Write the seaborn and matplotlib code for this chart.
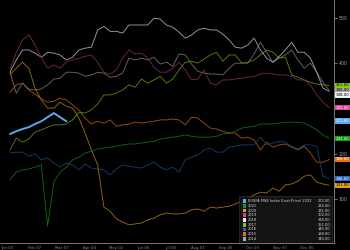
import numpy as np
import pandas as pd
import matplotlib
matplotlib.use("Agg")
import matplotlib.pyplot as plt
from matplotlib.patches import Rectangle
import seaborn as sns

# ---- data (weekly values) ----
v2022 = [244, 250, 255, 259, 266, 272, 281, 290, 281, 272]
v2021 = [143, 160, 165, 167, 171, 176, 41, 138, 160, 171, 187, 193, 202, 206, 211, 213, 215, 217, 220, 222,
         222, 224, 226, 228, 233, 235, 237, 239, 242, 239, 237, 237, 237, 239, 244, 246, 250, 257, 259, 261,
         266, 266, 266, 268, 270, 270, 270, 268, 261, 253, 242, 234]
v2020 = [374, 389, 402, 389, 345, 319, 301, 301, 314, 305, 301, 279, 246, 209, 176, 83, 74, 57, 50, 44,
         46, 48, 55, 59, 66, 70, 68, 68, 70, 77, 79, 74, 83, 81, 83, 85, 90, 96, 103, 110,
         116, 114, 125, 118, 132, 134, 140, 151, 154, 138, 134, 131]
v2019 = [385, 424, 451, 462, 440, 413, 389, 396, 389, 402, 407, 411, 415, 418, 402, 380, 376, 385, 411, 429,
         420, 422, 411, 391, 380, 380, 389, 402, 385, 363, 365, 385, 356, 352, 363, 363, 365, 367, 369, 371,
         376, 378, 376, 374, 374, 371, 363, 363, 352, 330, 314, 302]
v2018 = [380, 407, 429, 429, 422, 413, 424, 422, 418, 407, 413, 429, 433, 435, 473, 481, 470, 470, 466, 484,
         484, 484, 484, 499, 497, 484, 479, 468, 455, 462, 473, 477, 473, 473, 464, 451, 435, 433, 440, 455,
         429, 411, 402, 415, 429, 446, 424, 424, 411, 380, 345, 338]
v2017 = [209, 235, 226, 233, 248, 253, 259, 264, 264, 266, 275, 292, 290, 297, 310, 330, 330, 334, 341, 352,
         347, 365, 356, 363, 371, 356, 365, 385, 402, 404, 400, 409, 418, 424, 404, 418, 418, 400, 402, 407,
         418, 429, 424, 411, 413, 374, 369, 363, 358, 354, 352, 351]
v2016 = [202, 204, 204, 195, 200, 187, 191, 180, 171, 180, 176, 165, 178, 169, 167, 165, 154, 167, 176, 173,
         171, 169, 176, 182, 171, 165, 171, 160, 187, 193, 198, 209, 213, 204, 204, 215, 217, 220, 220, 220,
         237, 220, 224, 228, 226, 217, 211, 220, 220, 217, 151, 146]
v2015 = [336, 352, 356, 341, 332, 321, 314, 316, 323, 319, 308, 297, 279, 266, 272, 268, 275, 261, 264, 266,
         270, 268, 270, 272, 275, 275, 277, 275, 264, 281, 279, 268, 257, 255, 250, 246, 246, 235, 237, 231,
         209, 226, 215, 220, 222, 215, 209, 217, 202, 182, 182, 188]
v2014 = [380, 334, 356, 343, 341, 343, 352, 365, 367, 380, 380, 378, 371, 374, 380, 378, 369, 371, 378, 411,
         407, 411, 407, 413, 398, 402, 393, 420, 418, 398, 382, 378, 376, 376, 374, 389, 400, 400, 400, 420,
         446, 424, 402, 411, 418, 429, 407, 389, 400, 380, 358, 340]

legend_names = ["EUSFA PWE Index (Last Price) 2022", "2021", "2020", "2019", "2018",
                "2017", "2016", "2015", "2014"]
years = ["2022", "2021", "2020", "2019", "2018", "2017", "2016", "2015", "2014"]
series = [v2022, v2021, v2020, v2019, v2018, v2017, v2016, v2015, v2014]
yticks = [100, 200, 300, 400, 500]
ytick_labels = ["100", "200", "", "400", "500"]
xtick_labels = ["Jan 03", "Feb 07", "Mar 07", "Apr 04", "May 02", "Jun 06",
                "Jul 04", "Aug 01", "Sep 05", "Oct 03", "Nov 07", "Dec 05"]

# ---- styles ----
line_colors = {"2022": "#5aaaf0", "2021": "#0f6e12", "2020": "#a0700f", "2019": "#7e2658",
               "2018": "#a8a8a8", "2017": "#568c10", "2016": "#183f74", "2015": "#a8520c",
               "2014": "#6e6e6e"}
box_colors = {"2022": "#5aaaf0", "2021": "#109a18", "2020": "#e8a010", "2019": "#e03c9c",
              "2018": "#f0f0f0", "2017": "#88cc10", "2016": "#2a66c8", "2015": "#e87010",
              "2014": "#a8a8a8"}
box_text = {"2022": "white", "2021": "white", "2020": "black", "2019": "white", "2018": "black",
            "2017": "black", "2016": "white", "2015": "white", "2014": "black"}

rows = []
for yr, vals in zip(years, series):
    for i, v in enumerate(vals):
        rows.append({"week": i + 1, "value": v, "year": yr})
df = pd.DataFrame(rows)

sns.set_style("dark")
plt.rcParams["font.family"] = ["DejaVu Sans"]

fig = plt.figure(figsize=(3.5, 2.5), dpi=100, facecolor="black")
ax = fig.add_axes([0.0, 0.028, 0.955, 0.972])
ax.set_facecolor("black")

draw_order = ["2014", "2015", "2016", "2017", "2018", "2019", "2020", "2021", "2022"]
for yr in draw_order:
    sub = df[df["year"] == yr]
    sns.lineplot(data=sub, x="week", y="value", ax=ax, color=line_colors[yr],
                 linewidth=1.4 if yr == "2022" else 0.6, legend=False,
                 zorder=4 if yr == "2022" else 3)

ax.set_xlim(-0.6, 52.8)
ax.set_ylim(4, 539)
ax.set_xlabel("")
ax.set_ylabel("")
ax.grid(False)

ax.yaxis.tick_right()
ax.set_yticks(yticks)
ax.set_yticklabels(ytick_labels)
ax.tick_params(axis="y", colors="#a0a0a0", labelsize=3.4, length=2, width=0.5, pad=1,
               direction="out")
xt = [0.6 + 4.35 * k for k in range(len(xtick_labels))]
ax.set_xticks(xt)
ax.set_xticklabels(xtick_labels)
ax.tick_params(axis="x", colors="#8a8a8a", labelsize=2.8, length=1.5, width=0.4, pad=0.5)

for s in ["top", "left"]:
    ax.spines[s].set_visible(False)
for s in ["right", "bottom"]:
    ax.spines[s].set_visible(True)
    ax.spines[s].set_color("#8a8a8a")
    ax.spines[s].set_linewidth(0.6)

# ---- last-value labels on the right axis ----
last = [(yr, vals[-1]) for yr, vals in zip(years, series)]
last.sort(key=lambda t: -t[1])
placed = []
prev = None
for yr, v in last:
    pos = v if prev is None else min(v, prev - 10)
    placed.append((yr, v, pos))
    prev = pos
for yr, v, pos in placed:
    ax.annotate(f"{v:.2f}", xy=(1.0, pos), xycoords=("axes fraction", "data"),
                xytext=(1.0, 0), textcoords="offset points", ha="left", va="center",
                fontsize=2.9, color=box_text[yr], annotation_clip=False, zorder=6,
                bbox=dict(boxstyle="square,pad=0.2", fc=box_colors[yr], ec="none"))

# ---- legend box (manual, bottom right) ----
x0, x1 = 0.716, 0.994
y_top, y_bot = 0.195, 0.0
ax.add_patch(Rectangle((x0, y_bot), x1 - x0, y_top - y_bot, transform=ax.transAxes,
                       facecolor="#141414", edgecolor="#3a3a3a", linewidth=0.4, zorder=7))
for i, (yr, name, vals) in enumerate(zip(years, legend_names, series)):
    ypix = 201 + i * 4.75
    yf = 1 - ypix / 243.0
    ax.add_patch(Rectangle((0.727, yf - 0.008), 0.009, 0.016, transform=ax.transAxes,
                           facecolor=box_colors[yr], edgecolor="none", zorder=8))
    ax.text(0.741, yf, name, transform=ax.transAxes, fontsize=2.6, color="#d8d8d8",
            va="center", ha="left", zorder=8)
    ax.text(0.988, yf, f"{vals[-1]:.2f}", transform=ax.transAxes, fontsize=2.6,
            color="#d8d8d8", va="center", ha="right", zorder=8)

fig.savefig("out.png", dpi=100, facecolor="black")
